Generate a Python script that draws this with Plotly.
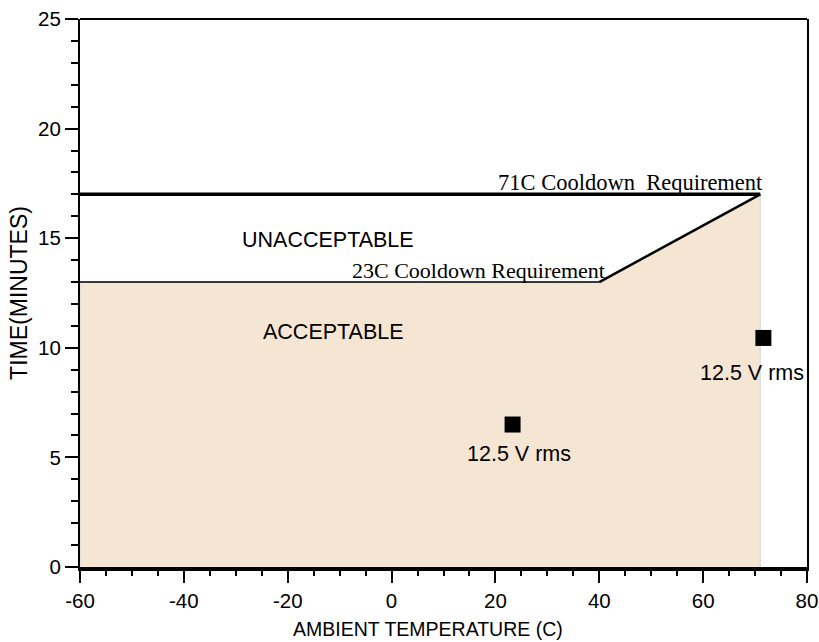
import plotly.graph_objects as go

# ---- data ----
x_range = [-60, 80]
y_range = [0, 25]
x_ticks = [-60, -40, -20, 0, 20, 40, 60, 80]
x_tick_labels = ["-60", "-40", "-20", "0", "20", "40", "60", "80"]
y_ticks = [0, 5, 10, 15, 20, 25]
y_tick_labels = ["0", "5", "10", "15", "20", "25"]

# requirement boundary (23C flat part, then ramp up to 71C)
flat_x = [-60, 40]
flat_y = [13, 13]
ramp_x = [40, 71]
ramp_y = [13, 17]
req71_x = [-60, 71]
req71_y = [17, 17]

# acceptable region polygon built from the boundary
region_x = [flat_x[0]] + flat_x + [ramp_x[1], ramp_x[1]]
region_y = [0] + flat_y + [ramp_y[1], 0]

# measured points
test_temp = [23.3, 71.6]
test_time = [6.5, 10.45]
test_labels = ["12.5 V rms", "12.5 V rms"]
label_shift_x = [6, -11]
label_shift_y = [-29, -35]

SANS = "Liberation Sans, Arial, sans-serif"
SERIF = "Liberation Serif, Times New Roman, serif"

fig = go.Figure()

fig.add_trace(go.Scatter(
    x=region_x, y=region_y, mode="lines", fill="toself",
    fillcolor="#F5E5D3", line=dict(color="#dedede", width=1.5),
    hoverinfo="skip", showlegend=False))

fig.add_trace(go.Scatter(x=flat_x, y=flat_y, mode="lines",
                         line=dict(color="black", width=1.5), showlegend=False))
fig.add_trace(go.Scatter(x=ramp_x, y=ramp_y, mode="lines",
                         line=dict(color="black", width=2.5), showlegend=False))
fig.add_trace(go.Scatter(x=req71_x, y=req71_y, mode="lines",
                         line=dict(color="black", width=3.5), showlegend=False))

fig.add_trace(go.Scatter(x=test_temp, y=test_time, mode="markers",
                         marker=dict(symbol="square", size=16, color="black"),
                         showlegend=False))

annotations = []
for xv, yv, t, sx, sy in zip(test_temp, test_time, test_labels, label_shift_x, label_shift_y):
    annotations.append(dict(x=xv, y=yv, text=t, showarrow=False, xshift=sx, yshift=sy,
                            font=dict(family=SANS, size=21.5, color="black")))

annotations += [
    dict(x=req71_x[1] + 1, y=req71_y[1], text="71C Cooldown\u00a0 Requirement", showarrow=False,
         xanchor="right", yanchor="bottom", yshift=-3,
         font=dict(family=SERIF, size=22.5, color="black")),
    dict(x=16.7, y=flat_y[0], text="23C Cooldown Requirement", showarrow=False,
         xanchor="center", yanchor="bottom", yshift=-3,
         font=dict(family=SERIF, size=22, color="black")),
    dict(x=-12.3, y=14.93, text="UNACCEPTABLE", showarrow=False,
         font=dict(family=SANS, size=21.5, color="black")),
    dict(x=-11.1, y=10.7, text="ACCEPTABLE", showarrow=False,
         font=dict(family=SANS, size=21.5, color="black")),
    dict(x=0.478, y=0, xref="paper", yref="paper", yshift=-62, text="AMBIENT TEMPERATURE (C)",
         showarrow=False, yanchor="middle", font=dict(family=SANS, size=19.5, color="black")),
]

fig.update_layout(
    width=819, height=642,
    margin=dict(l=80, r=12, t=19, b=75),
    paper_bgcolor="white", plot_bgcolor="white",
    showlegend=False,
    annotations=annotations,
    shapes=[dict(type="line", xref="paper", yref="paper", x0=0, x1=1, y0=1, y1=1,
                 line=dict(color="black", width=2))],
    font=dict(family=SANS, color="black"),
)

fig.update_xaxes(
    range=x_range, tickvals=x_ticks, ticktext=x_tick_labels, automargin=False,
    ticklabeloverflow="allow",
    showgrid=False, zeroline=False,
    showline=True, linecolor="black", linewidth=4,
    ticks="outside", ticklen=12, tickwidth=2, tickcolor="black",
    tickfont=dict(family=SANS, size=20.5, color="black"),
    minor=dict(dtick=5, ticks="outside", ticklen=5, tickwidth=2, tickcolor="black", showgrid=False),
)
fig.update_yaxes(
    range=y_range, tickvals=y_ticks, ticktext=y_tick_labels, automargin=False,
    ticklabeloverflow="allow",
    showgrid=False, zeroline=False,
    showline=True, linecolor="black", linewidth=2, mirror=True,
    ticks="outside", ticklen=13, tickwidth=2, tickcolor="black",
    tickfont=dict(family=SANS, size=20.5, color="black"),
    minor=dict(dtick=1, ticks="outside", ticklen=7, tickwidth=2, tickcolor="black", showgrid=False),
    title=dict(text="TIME(MINUTES)", font=dict(family=SANS, size=23, color="black"), standoff=4),
)

# remove the default page margin so the 819x642 figure fills the window exactly
fig.write_html("out.html",
               config={"displayModeBar": False},
               post_script="document.body.style.margin='0';document.body.style.overflow='hidden';")
